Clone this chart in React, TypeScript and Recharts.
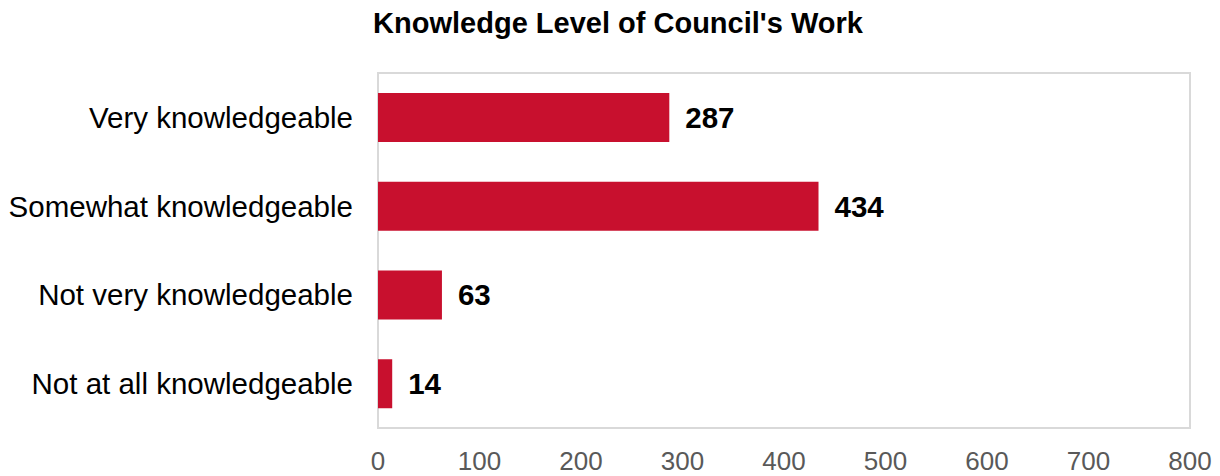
import React from 'react';
import { BarChart, Bar, XAxis, YAxis, LabelList, ReferenceArea } from 'recharts';

const categories = [
  'Very knowledgeable',
  'Somewhat knowledgeable',
  'Not very knowledgeable',
  'Not at all knowledgeable',
];
const counts = [287, 434, 63, 14];
const xTicks = [0, 100, 200, 300, 400, 500, 600, 700, 800];

const data = categories.map((name, i) => ({ name, value: counts[i] }));

const font = 'Arial, "Liberation Sans", sans-serif';

const App: React.FC = () => {
  return (
    <div style={{ position: 'relative', width: 1212, height: 468, fontFamily: font }}>
      <div
        style={{
          position: 'absolute',
          top: -1,
          left: 360,
          width: 500,
          textAlign: 'center',
          fontSize: 29,
          fontWeight: 'bold',
          color: '#000',
          whiteSpace: 'nowrap',
        }}
      >
        Knowledge Level of Council's Work
      </div>
      <BarChart
        width={1212}
        height={468}
        layout="vertical"
        data={data}
        margin={{ top: 65, right: 30, bottom: 0, left: 0 }}
      >
        <ReferenceArea x1={0} x2={800} fill="none" stroke="#d9d9d9" strokeWidth={2} ifOverflow="visible" />
        <XAxis
          type="number"
          domain={[0, 800]}
          ticks={xTicks}
          axisLine={false}
          tickLine={false}
          tickMargin={18}
          height={48}
          tick={{ fill: '#595959', fontSize: 26, fontFamily: font }}
        />
        <YAxis
          type="category"
          dataKey="name"
          width={370}
          axisLine={false}
          tickLine={false}
          tickMargin={19}
          tick={{ fill: '#000', fontSize: 29.5, fontFamily: font }}
        />
        <Bar dataKey="value" fill="#c8102e" barSize={49} isAnimationActive={false}>
          <LabelList
            dataKey="value"
            position="right"
            offset={16}
            style={{ fill: '#000', fontSize: 29.5, fontWeight: 'bold', fontFamily: font }}
          />
        </Bar>
      </BarChart>
    </div>
  );
};

export default App;
